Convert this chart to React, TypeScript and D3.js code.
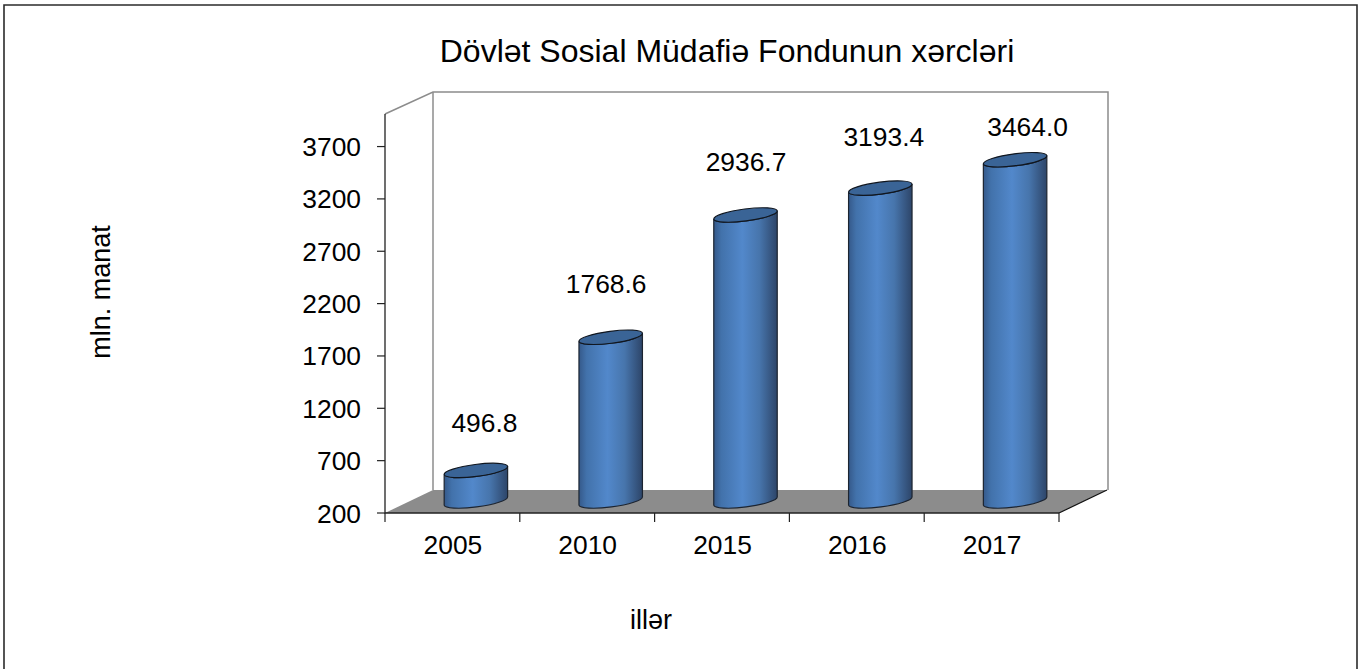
import React from "react";
import * as d3 from "d3";

const years = ["2005", "2010", "2015", "2016", "2017"];
const spending = [496.8, 1768.6, 2936.7, 3193.4, 3464.0];
const valueLabels = ["496.8", "1768.6", "2936.7", "3193.4", "3464.0"];
const yTicks = [200, 700, 1200, 1700, 2200, 2700, 3200, 3700];
const titleText = "Dövlət Sosial Müdafiə Fondunun xərcləri";
const yTitle = "mln. manat";
const xTitle = "illər";

// hand-placed data label offsets, as in the original
const labelDx = [8, -5, 0, 3, 12];
const labelDy = [-38, -44, -44, -42, -24];

const font = "'Liberation Sans', Arial, sans-serif";
const W = 1365, H = 669;
const x0 = 385, x1 = 1059, yBase = 513, yTop = 114;
const depthX = 48, depthY = 23;
const axisGrey = "#8c8c8c";
const fs = 26.4;

const x = d3.scaleBand<string>().domain(years).range([x0, x1]);
const y = d3.scaleLinear().domain([200, 4011]).range([yBase, yTop]);

const rx = 32, ry = 6, tilt = -7.4;
const rad = (tilt * Math.PI) / 180;
const ex = rx * Math.cos(rad), ey = rx * Math.sin(rad);

export default function App() {
  const ticksX = [x0, ...years.map((d) => (x(d) as number) + x.bandwidth())];
  return (
    <svg width={W} height={H} style={{ position: "absolute", left: 0, top: 0, background: "#fff" }}>
      <defs>
        <linearGradient id="cyl" x1="0" x2="1" y1="0" y2="0">
          <stop offset="0" stopColor="#35598a" />
          <stop offset="0.12" stopColor="#4272ab" />
          <stop offset="0.45" stopColor="#5288cb" />
          <stop offset="0.72" stopColor="#4775ac" />
          <stop offset="1" stopColor="#2d4569" />
        </linearGradient>
      </defs>

      <path d={`M4,669V5H1357V669`} fill="none" stroke="#2b2b2b" strokeWidth={1.6} />

      <text x={727} y={62} textAnchor="middle" fontFamily={font} fontSize={32} fill="#000">{titleText}</text>

      {/* walls and floor */}
      <path
        d={`M${x0},${yTop}L${x0 + depthX},${yTop - 22}H${x1 + depthX + 1}V${yBase - depthY}`}
        fill="none" stroke={axisGrey} strokeWidth={1.5}
      />
      <path d={`M${x0 + depthX},${yTop - 22}V${yBase - depthY}`} fill="none" stroke={axisGrey} strokeWidth={1.5} />
      <path
        d={`M${x0},${yBase}L${x0 + depthX},${yBase - depthY}H${x1 + depthX}L${x1},${yBase}Z`}
        fill="#8c8c8c"
      />
      <path d={`M${x1},${yBase}L${x1 + depthX},${yBase - depthY}`} stroke="#111" strokeWidth={1.2} />

      {/* axes */}
      <path d={`M${x0},${yTop}V${yBase}H${x1}`} fill="none" stroke="#222" strokeWidth={1.3} />
      {yTicks.map((t) => (
        <g key={t}>
          <line x1={x0 - 8} x2={x0} y1={y(t)} y2={y(t)} stroke="#222" strokeWidth={1.2} />
          <text x={361} y={y(t) + 9.5} textAnchor="end" fontFamily={font} fontSize={fs} fill="#000">{t}</text>
        </g>
      ))}
      {ticksX.map((t) => (
        <line key={t} x1={t} x2={t} y1={yBase} y2={yBase + 9} stroke="#222" strokeWidth={1.2} />
      ))}
      {years.map((d) => (
        <text key={d} x={(x(d) as number) + x.bandwidth() / 2 + 0.5} y={554} textAnchor="middle" fontFamily={font} fontSize={fs} fill="#000">{d}</text>
      ))}

      {/* cylinders */}
      {years.map((d, i) => {
        const cx = (x(d) as number) + x.bandwidth() / 2 + depthX / 2 - 0.5;
        const top = y(spending[i]) - depthY / 2;
        const bottom = yBase - depthY / 2 - 0.5;
        const body =
          `M${cx - ex},${top - ey}` +
          `L${cx - ex},${bottom - ey}` +
          `A${rx},${ry} ${tilt} 0 0 ${cx + ex},${bottom + ey}` +
          `L${cx + ex},${top + ey}` +
          `A${rx},${ry} ${tilt} 0 1 ${cx - ex},${top - ey}Z`;
        return (
          <g key={d}>
            <path d={body} fill="url(#cyl)" stroke="#1c2430" strokeWidth={1.2} />
            <ellipse
              cx={cx} cy={top} rx={rx} ry={ry}
              transform={`rotate(${tilt} ${cx} ${top})`}
              fill="#3a6496" stroke="#10161f" strokeWidth={1.2}
            />
          </g>
        );
      })}

      {/* data labels */}
      {years.map((d, i) => {
        const cx = (x(d) as number) + x.bandwidth() / 2 + depthX / 2;
        return (
          <text key={d} x={cx + labelDx[i]} y={y(spending[i]) - depthY / 2 + labelDy[i]} textAnchor="middle" fontFamily={font} fontSize={fs} fill="#000">
            {valueLabels[i]}
          </text>
        );
      })}

      <text transform="translate(110,292) rotate(-90)" textAnchor="middle" fontFamily={font} fontSize={27} fill="#000">{yTitle}</text>
      <text x={651} y={629} textAnchor="middle" fontFamily={font} fontSize={27} fill="#000">{xTitle}</text>
    </svg>
  );
}
